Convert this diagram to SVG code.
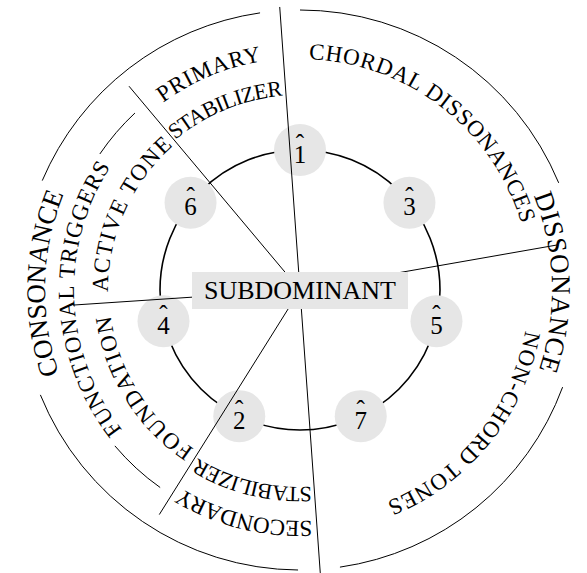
<svg xmlns="http://www.w3.org/2000/svg" width="587" height="573" viewBox="0 0 587 573">
<defs>
<style>
.ring{fill:none;stroke:#000;stroke-width:1}
.inner{fill:none;stroke:#000;stroke-width:1.6}
.sect{stroke:#000;stroke-width:1;fill:none}
.node{fill:#e6e6e6;stroke:none}
.lbl{font-family:"Liberation Serif","Times New Roman",serif;font-size:25px;fill:#000;text-anchor:middle}
.big{font-family:"Liberation Serif","Times New Roman",serif;font-size:27px;fill:#000}
.mid{font-family:"Liberation Serif","Times New Roman",serif;font-size:23px;fill:#000}
.sm{font-family:"Liberation Serif","Times New Roman",serif;font-size:22px;fill:#000}
.box{fill:#e6e6e6}
</style>
<path id="pCons" d="M271.13,543.36 A255,255 0 0 1 284.43,35.48"/>
<path id="pDiss" d="M314.29,38.41 A252,252 0 0 1 329.62,540.25"/>
<path id="pFunc" d="M290.54,515.80 A226,226 0 0 1 270.11,65.98"/>
<path id="pAct" d="M206.92,457.93 A192,192 0 0 1 362.51,108.46"/>
<path id="pFound" d="M386.71,460.18 A191,191 0 0 1 185.05,137.46"/>
<path id="pPrim" d="M79.17,361.11 A232,232 0 0 1 505.13,181.62"/>
<path id="pStab1" d="M113.91,348.32 A195,195 0 0 1 473.13,200.26"/>
<path id="pSec" d="M518.41,365.21 A231,231 0 0 1 71.84,253.86"/>
<path id="pStab2" d="M486.27,354.14 A197,197 0 0 1 105.43,259.18"/>
<path id="pChord" d="M130.37,133.19 A231,231 0 0 1 494.28,414.97"/>
<path id="pNon" d="M444.11,112.03 A229,229 0 0 1 155.89,467.97"/>
</defs>

<g id="rings">
<path class="ring" d="M298.05,570 A280,280 0 0 1 40.39,394.89"/>
<path class="ring" d="M42.26,180.60 A280,280 0 0 1 260.06,12.86"/>
<path class="ring" d="M300,10 A280,280 0 0 1 558.69,182.85"/>
<path class="ring" d="M562.61,387.14 A280,280 0 0 1 339.94,567.14"/>
<path class="ring" d="M160.16,487.51 A242,242 0 0 1 114.89,445.88"/>
<path class="ring" d="M99.85,153.98 A242,242 0 0 1 134.96,113.01"/>
<circle class="inner" cx="300" cy="290" r="140"/>
</g>

<g id="labels">
<text class="big"><textPath href="#pCons" startOffset="50%" text-anchor="middle" textLength="184" lengthAdjust="spacing">CONSONANCE</textPath></text>
<text class="big"><textPath href="#pDiss" startOffset="50%" text-anchor="middle" textLength="178" lengthAdjust="spacing">DISSONANCE</textPath></text>
<text class="mid"><textPath href="#pFunc" startOffset="50%" text-anchor="middle" textLength="281" lengthAdjust="spacing">FUNCTIONAL TRIGGERS</textPath></text>
<text class="mid"><textPath href="#pAct" startOffset="50%" text-anchor="middle" textLength="165" lengthAdjust="spacing">ACTIVE TONE</textPath></text>
<text class="mid"><textPath href="#pFound" startOffset="50%" text-anchor="middle" textLength="162" lengthAdjust="spacing">FOUNDATION</textPath></text>
<text class="mid"><textPath href="#pPrim" startOffset="50%" text-anchor="middle" textLength="108" lengthAdjust="spacing">PRIMARY</textPath></text>
<text class="sm"><textPath href="#pStab1" startOffset="50%" text-anchor="middle" textLength="118" lengthAdjust="spacing">STABILIZER</textPath></text>
<text class="mid"><textPath href="#pSec" startOffset="50%" text-anchor="middle" textLength="137" lengthAdjust="spacing">SECONDARY</textPath></text>
<text class="sm"><textPath href="#pStab2" startOffset="50%" text-anchor="middle" textLength="119" lengthAdjust="spacing">STABILIZER</textPath></text>
<text class="mid"><textPath href="#pChord" startOffset="50%" text-anchor="middle" textLength="287" lengthAdjust="spacing">CHORDAL DISSONANCES</textPath></text>
<text class="mid"><textPath href="#pNon" startOffset="50%" text-anchor="middle" textLength="230" lengthAdjust="spacing">NON-CHORD TONES</textPath></text>
</g>

<g id="n1"><circle class="node" cx="300" cy="150" r="26"/><text class="lbl" x="300" y="162.5">1<tspan x="300" dy="-10.5">ˆ</tspan></text></g>
<g id="n3"><circle class="node" cx="409.46" cy="202.71" r="26"/><text class="lbl" x="409.46" y="215.2">3<tspan x="409.46" dy="-10.5">ˆ</tspan></text></g>
<g id="n5"><circle class="node" cx="436.49" cy="321.15" r="26"/><text class="lbl" x="436.49" y="333.6">5<tspan x="436.49" dy="-10.5">ˆ</tspan></text></g>
<g id="n7"><circle class="node" cx="360.74" cy="416.14" r="26"/><text class="lbl" x="360.74" y="428.6">7<tspan x="360.74" dy="-10.5">ˆ</tspan></text></g>
<g id="n2"><circle class="node" cx="239.26" cy="416.14" r="26"/><text class="lbl" x="239.26" y="428.6">2<tspan x="239.26" dy="-10.5">ˆ</tspan></text></g>
<g id="n4"><circle class="node" cx="163.51" cy="321.15" r="26"/><text class="lbl" x="163.51" y="333.6">4<tspan x="163.51" dy="-10.5">ˆ</tspan></text></g>
<g id="n6"><circle class="node" cx="190.54" cy="202.71" r="26"/><text class="lbl" x="190.54" y="215.2">6<tspan x="190.54" dy="-10.5">ˆ</tspan></text></g>

<g id="connectors">
<line class="sect" x1="279.72" y1="6.97" x2="320.28" y2="572.97"/>
<line class="sect" x1="300" y1="290" x2="129.02" y2="86.23"/>
<line class="sect" x1="300" y1="290" x2="73" y2="305.08"/>
<line class="sect" x1="300" y1="290" x2="557.09" y2="244.98"/>
<line class="sect" x1="300" y1="290" x2="159.3" y2="514.57"/>
</g>

<g id="subdominant">
<rect class="box" x="192" y="272" width="216" height="37"/>
<text class="big" x="300" y="299.3" text-anchor="middle" style="font-size:26px" textLength="192" lengthAdjust="spacing">SUBDOMINANT</text>
</g>
</svg>
